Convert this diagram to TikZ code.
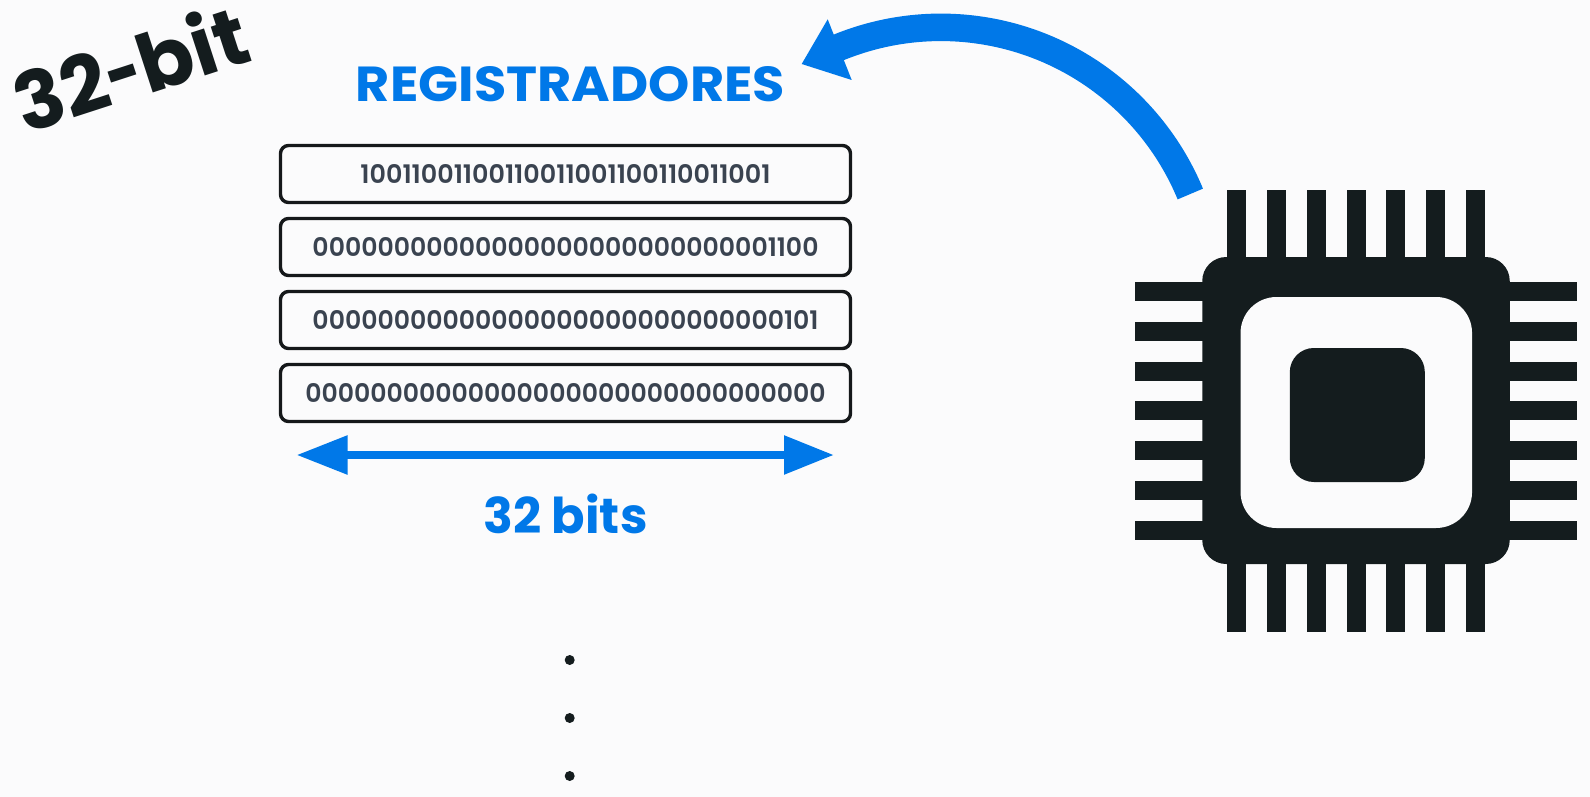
\documentclass[tikz,border=0pt]{standalone}
\usepackage{fontspec}
\usepackage{graphicx}
\usetikzlibrary{arrows.meta}
\setmainfont{Poppins}[BoldFont={* Bold}]
\newfontfamily\semib{Poppins SemiBold}
\definecolor{bgc}{HTML}{FBFBFC}
\definecolor{bluec}{HTML}{0078E8}
\definecolor{darkc}{HTML}{141C1E}
\definecolor{digitc}{HTML}{3A4350}
\definecolor{edgec}{HTML}{15181A}
\tikzset{
  x=1pt,y=-1pt,
  regbox/.style={draw=edgec,line width=3.4pt,rounded corners=8pt,fill=bgc,minimum width=570pt,minimum height=57pt,inner sep=0pt,text=digitc,font=\semib},
  bluetext/.style={text=bluec,font=\bfseries,inner sep=0pt},
  pin/.style={fill=darkc,draw=none},
  dotn/.style={circle,fill=darkc,draw=none,minimum size=10pt,inner sep=0pt},
  bluearrow/.style={draw=bluec,line width=#1},
}
\newcommand{\digits}[2]{\resizebox{#1pt}{19pt}{#2}}
\begin{document}
\begin{tikzpicture}
\useasboundingbox (0,0) rectangle (1590,797);
\fill[bgc] (0,0) rectangle (1590,797);

\node[inner sep=0pt,rotate=18,text=darkc,font=\bfseries] (word) at (130,67) {\resizebox{241pt}{!}{32\scalebox{0.75}[1]{-}bit}};
\node[bluetext] (title) at (570.5,84) {\resizebox{429pt}{35pt}{REGISTRADORES}};

\node[regbox] (r1) at (565.5,174) {\digits{410}{10011001100110011001100110011001}};
\node[regbox] (r2) at (565.5,247) {\digits{506}{00000000000000000000000000001100}};
\node[regbox] (r3) at (565.5,320) {\digits{506}{00000000000000000000000000000101}};
\node[regbox] (r4) at (565.5,393) {\digits{520}{00000000000000000000000000000000}};

\coordinate (wl) at (296.5,455);
\coordinate (wr) at (834,455);
\draw[bluearrow=8.6pt,{Triangle[length=51pt,width=37pt]}-{Triangle[length=50pt,width=37pt]}] (wl) -- (wr);
\node[bluetext] (bits) at (565.5,513.5) {\resizebox{164pt}{!}{32 bits}};

\node[dotn] (d1) at (569.7,660) {};
\node[dotn] (d2) at (569.7,718) {};
\node[dotn] (d3) at (569.7,776) {};

% chip pins
\foreach \i in {0,...,6} {
  \fill[pin] ({1227+39.83*\i},190) rectangle ({1246+39.83*\i},632);
  \fill[pin] (1135,{282+39.8*\i}) rectangle (1577,{301+39.8*\i});
}
\node[fill=darkc,rounded corners=24pt,minimum width=307.5pt,minimum height=307pt,inner sep=0pt] (chip) at (1356,410.5) {};
\node[fill=bgc,rounded corners=36pt,minimum width=231.5pt,minimum height=231pt,inner sep=0pt] (core) at (1356.3,412.5) {};
\node[fill=darkc,rounded corners=24pt,minimum width=135pt,minimum height=134pt,inner sep=0pt] (die) at (1357.3,415) {};

\coordinate (tail) at (1190.3,194);
\coordinate (tip) at (801.7,64);
\coordinate (barba) at (827.7,19.3);
\coordinate (barbb) at (851.7,80);
\draw[bluearrow=27.5pt] (tail) arc[start angle=22.5,end angle=113,radius=270pt];
\fill[bluec] (tip) -- (barba) -- (barbb) -- cycle;
\end{tikzpicture}
\end{document}
